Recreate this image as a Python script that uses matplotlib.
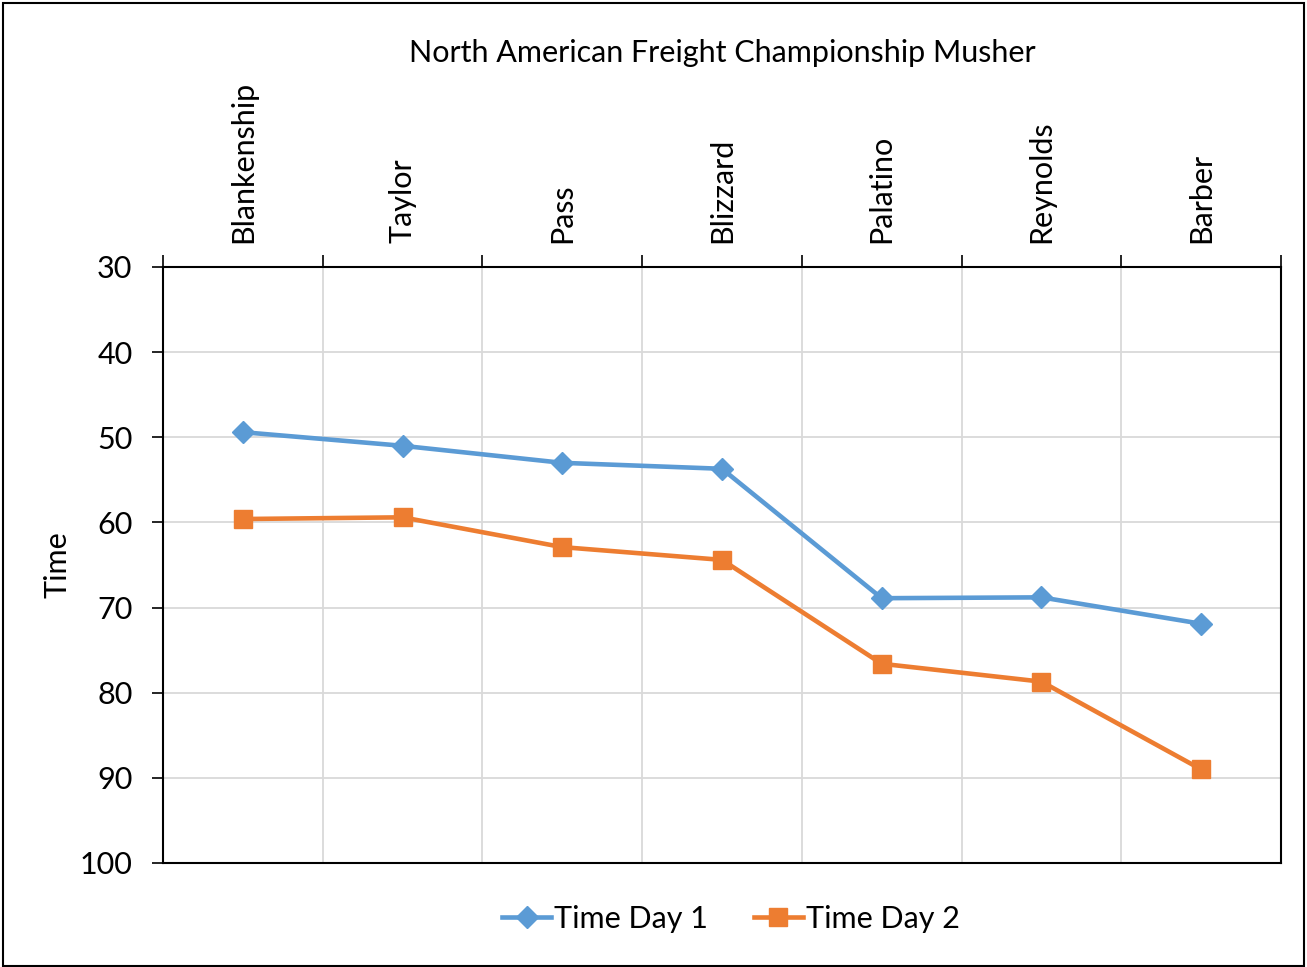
import matplotlib.pyplot as plt
from matplotlib.patches import Rectangle
from matplotlib.ticker import FixedLocator

# Datos
mushers = ["Blankenship", "Taylor", "Pass", "Blizzard", "Palatino", "Reynolds", "Barber"]
time_day1 = [49.4, 51.0, 53.0, 53.7, 68.9, 68.8, 71.9]
time_day2 = [59.6, 59.4, 62.9, 64.4, 76.6, 78.7, 89.0]

plt.rcParams['font.family'] = ['Lato', 'DejaVu Sans']

fig = plt.figure(figsize=(13.07, 9.67), dpi=100)
ax = fig.add_axes([163 / 1307, 1 - 863 / 967, (1281 - 163) / 1307, (863 - 267) / 967])

x = list(range(len(mushers)))
ax.plot(x, time_day1, color='#5B9BD5', lw=3.3, marker='D', ms=11, label='Time Day 1')
ax.plot(x, time_day2, color='#ED7D31', lw=3.3, marker='s', ms=12.5, label='Time Day 2')

# Eje Y invertido
ax.set_ylim(100, 30)
ax.set_yticks(range(30, 101, 10))
ax.tick_params(axis='y', labelsize=22, length=8, width=1.2, direction='out', pad=14)
ax.set_ylabel('Time', fontsize=22)
ax.yaxis.set_label_coords(-0.082, 0.5)

# Categorías arriba
ax.set_xlim(-0.5, len(mushers) - 0.5)
ax.xaxis.tick_top()
ax.set_xticks(x)
ax.set_xticklabels(mushers, rotation=90, fontsize=22)
ax.xaxis.set_minor_locator(FixedLocator([i + 0.5 for i in range(-1, len(mushers))]))
ax.tick_params(axis='x', which='major', length=0, pad=17)
ax.tick_params(axis='x', which='minor', length=9, width=1.2, direction='out', top=True, bottom=False)

ax.grid(True, axis='y', color='#D9D9D9', lw=1.3)
ax.grid(True, axis='x', which='minor', color='#D9D9D9', lw=1.3)
ax.set_axisbelow(True)
for s in ax.spines.values():
    s.set_color('black')
    s.set_linewidth(1.5)

fig.text(722 / 1307, 1 - 53 / 967, 'North American Freight Championship Musher',
         ha='center', va='center', fontsize=22)

fig.legend(loc='center', bbox_to_anchor=(731 / 1307, 1 - 919 / 967), ncol=2,
           frameon=False, fontsize=22, handlelength=1.6, handletextpad=0.1, columnspacing=1.5)

# Borde de la figura
fig.patches.append(Rectangle((0.002, 0.001), 0.996, 0.996, transform=fig.transFigure,
                             fill=False, edgecolor='black', lw=1.5))

fig.savefig('out.png', dpi=100)
